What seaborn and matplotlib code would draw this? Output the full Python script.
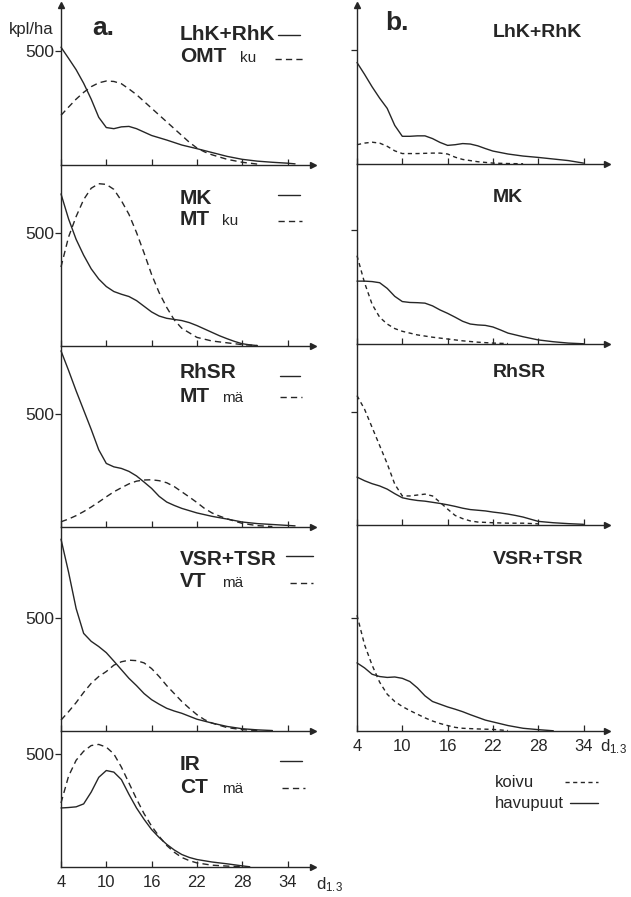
import matplotlib
matplotlib.use("Agg")
import matplotlib.pyplot as plt
import seaborn as sns
import pandas as pd
from matplotlib.lines import Line2D

sns.set_style("white")
plt.rcParams['font.family'] = ['Liberation Sans', 'DejaVu Sans']
plt.rcParams['mathtext.default'] = 'regular'

W, H = 631, 897
INK = '#262626'
PX_PER_UNIT = 0.227          # vertical px per kpl/ha
DASH_A = (0, (4.5, 3))
DASH_B = (0, (3, 2.5))

# ---------------- data (kpl/ha by d1.3 class) ----------------
# a. left column
lhk_d = [4, 5, 6, 7, 8, 9, 10, 11, 12, 13, 14, 16, 18, 20, 22, 24, 26, 28, 30, 32, 34, 35]
lhk_n = [519, 470, 420, 360, 290, 210, 165, 160, 168, 170, 160, 130, 110, 88, 72, 55, 38, 25, 17, 12, 8, 5]
omt_d = [4, 5, 6, 7, 8, 9, 10, 11, 12, 13, 14, 15, 16, 17, 18, 19, 20, 21, 22, 23, 24, 26, 28, 30]
omt_n = [219, 255, 290, 320, 345, 362, 370, 368, 358, 335, 310, 280, 250, 220, 190, 160, 130, 100, 75, 58, 45, 25, 12, 4]

mk_d = [4, 5, 6, 7, 8, 9, 10, 11, 12, 13, 14, 15, 16, 17, 18, 19, 20, 21, 22, 23, 24, 25, 26, 27, 28, 29, 30]
mk_n = [670, 560, 470, 400, 340, 295, 262, 240, 228, 218, 200, 175, 150, 132, 122, 117, 112, 103, 90, 75, 60, 45, 32, 20, 10, 5, 2]
mtku_d = [4, 5, 6, 7, 8, 9, 10, 11, 12, 13, 14, 15, 16, 17, 18, 19, 20, 22, 24, 26, 28, 30]
mtku_n = [348, 480, 570, 645, 695, 715, 712, 690, 640, 580, 500, 410, 315, 235, 170, 115, 78, 38, 22, 14, 6, 2]

rhsr_d = [4, 5, 6, 7, 8, 9, 10, 11, 12, 13, 14, 15, 16, 17, 18, 19, 20, 22, 24, 26, 28, 30, 32, 34, 35]
rhsr_n = [776, 690, 600, 515, 430, 340, 280, 265, 258, 245, 225, 198, 170, 135, 110, 95, 82, 62, 47, 35, 22, 15, 11, 7, 5]
mtma_d = [4, 5, 6, 7, 8, 9, 10, 11, 12, 13, 14, 15, 16, 17, 18, 19, 20, 21, 22, 23, 24, 25, 26, 28, 30, 32]
mtma_n = [23, 35, 50, 68, 88, 110, 133, 155, 173, 190, 202, 207, 208, 204, 195, 178, 155, 132, 108, 82, 62, 48, 36, 16, 6, 2]

vsr_d = [4, 5, 6, 7, 8, 9, 10, 11, 12, 13, 14, 15, 16, 17, 18, 19, 20, 22, 24, 26, 28, 30, 32]
vsr_n = [845, 700, 540, 430, 395, 372, 345, 308, 270, 232, 200, 165, 138, 118, 100, 88, 78, 52, 35, 20, 10, 5, 2]
vt_d = [4, 5, 6, 7, 8, 9, 10, 11, 12, 13, 14, 15, 16, 17, 18, 19, 20, 21, 22, 23, 24, 26, 28, 30]
vt_n = [48, 85, 125, 170, 210, 240, 262, 290, 305, 312, 310, 300, 275, 240, 200, 165, 130, 100, 72, 50, 35, 15, 6, 2]

ir_d = [4, 5, 6, 7, 8, 9, 10, 11, 12, 13, 14, 15, 16, 17, 18, 19, 20, 21, 22, 24, 26, 28, 29]
ir_n = [260, 262, 265, 278, 330, 395, 425, 418, 385, 320, 260, 210, 165, 130, 100, 75, 55, 42, 33, 22, 14, 5, 1]
ct_d = [4, 5, 6, 7, 8, 9, 10, 11, 12, 13, 14, 15, 16, 17, 18, 19, 20, 21, 22, 24, 26, 28]
ct_n = [282, 400, 470, 510, 535, 540, 528, 498, 440, 370, 300, 235, 180, 135, 95, 65, 42, 28, 18, 8, 4, 1]

# b. right column: havupuut (solid) / koivu (dashed)
b1_hav_d = [4, 5, 6, 7, 8, 9, 10, 11, 12, 13, 14, 15, 16, 17, 18, 19, 20, 21, 22, 24, 26, 28, 30, 32, 34]
b1_hav_n = [447, 395, 340, 290, 245, 170, 122, 122, 124, 124, 112, 95, 82, 85, 90, 88, 80, 68, 57, 44, 35, 29, 22, 15, 4]
b1_koi_d = [4, 5, 6, 7, 8, 9, 10, 12, 14, 15, 16, 17, 18, 20, 22, 24, 26]
b1_koi_n = [85, 92, 96, 92, 78, 58, 46, 46, 48, 48, 44, 30, 20, 10, 4, 2, 1]

b2_hav_d = [4, 5, 6, 7, 8, 9, 10, 11, 12, 13, 14, 15, 16, 17, 18, 19, 20, 21, 22, 23, 24, 26, 28, 30, 32, 34]
b2_hav_n = [277, 277, 275, 270, 245, 210, 187, 183, 182, 180, 168, 150, 135, 118, 100, 88, 84, 82, 75, 62, 48, 32, 18, 10, 4, 1]
b2_koi_d = [4, 5, 6, 7, 8, 9, 10, 11, 12, 14, 16, 18, 20, 22, 24]
b2_koi_n = [389, 270, 175, 118, 88, 68, 56, 48, 40, 30, 22, 14, 8, 4, 2]

b3_hav_d = [4, 5, 6, 7, 8, 9, 10, 11, 12, 13, 14, 15, 16, 17, 18, 19, 20, 21, 22, 23, 24, 25, 26, 28, 30, 32, 34]
b3_hav_n = [211, 195, 182, 172, 158, 138, 120, 113, 108, 105, 100, 95, 89, 82, 74, 68, 65, 62, 57, 53, 48, 42, 35, 16, 10, 6, 3]
b3_koi_d = [4, 5, 6, 7, 8, 9, 10, 11, 12, 13, 14, 15, 16, 17, 18, 19, 20, 22, 24, 26, 28]
b3_koi_n = [570, 510, 430, 350, 270, 180, 128, 128, 132, 136, 128, 100, 70, 42, 28, 18, 13, 10, 8, 8, 5]

b4_hav_d = [4, 5, 6, 7, 8, 9, 10, 11, 12, 13, 14, 15, 16, 17, 18, 19, 20, 21, 22, 24, 26, 28, 30]
b4_hav_n = [300, 278, 250, 240, 236, 238, 232, 218, 190, 155, 130, 118, 106, 96, 85, 72, 60, 48, 40, 24, 12, 6, 1]
b4_koi_d = [4, 5, 6, 7, 8, 9, 10, 11, 12, 13, 14, 15, 16, 17, 18, 20, 22, 24]
b4_koi_n = [510, 380, 290, 215, 162, 130, 108, 90, 74, 58, 44, 33, 24, 16, 12, 9, 7, 2]

x_ticks = [4, 10, 16, 22, 28, 34]

# ---------------- layout (pixel boxes) ----------------
LEFT_X, LEFT_W = 61, 252
RIGHT_X, RIGHT_W = 357, 250
left_rows = [(5, 165), (165, 346), (346, 527), (527, 731), (731, 867)]
right_rows = [(5, 164), (164, 344), (344, 525), (525, 731)]

fig = plt.figure(figsize=(W / 100, H / 100), dpi=100)


def fx(x):
    return x / W


def fy(y):
    return 1 - y / H


def make_axes(x0, width, top, base, first, last, label_500):
    ax = fig.add_axes([fx(x0), fy(base), width / W, (base - top) / H])
    ax.set_xlim(4, 4 + width / 7.55)
    ax.set_ylim(0, (base - top) / PX_PER_UNIT)
    for s in ('top', 'right'):
        ax.spines[s].set_visible(False)
    for s in ('left', 'bottom'):
        ax.spines[s].set_color(INK)
        ax.spines[s].set_linewidth(1.0)
    ax.set_xticks(x_ticks)
    ax.set_yticks([500])
    ax.tick_params(axis='x', bottom=True, direction='in', length=4, width=0.9, color=INK,
                   labelsize=12, pad=6, labelcolor=INK, labelbottom=last)
    ax.tick_params(axis='y', left=True, direction='out', length=4, width=0.9, color=INK,
                   labelsize=12.5, pad=1, labelcolor=INK, labelleft=label_500)
    ax.patch.set_alpha(0)
    ax.plot(1, 0, '>', color=INK, ms=5, transform=ax.get_yaxis_transform(), clip_on=False)
    if first:
        ax.plot(0, 1, '^', color=INK, ms=5, transform=ax.transAxes, clip_on=False)
    return ax


def draw(ax, d, n, dashed, pattern=DASH_A):
    df = pd.DataFrame({'d': d, 'n': n})
    ls = pattern if dashed else '-'
    sns.lineplot(data=df, x='d', y='n', ax=ax, color=INK, lw=1.0, linestyle=ls,
                 errorbar=None, clip_on=False)
    ax.set_xlabel('')
    ax.set_ylabel('')


left_series = [
    (lhk_d, lhk_n, omt_d, omt_n),
    (mk_d, mk_n, mtku_d, mtku_n),
    (rhsr_d, rhsr_n, mtma_d, mtma_n),
    (vsr_d, vsr_n, vt_d, vt_n),
    (ir_d, ir_n, ct_d, ct_n),
]
right_series = [
    (b1_hav_d, b1_hav_n, b1_koi_d, b1_koi_n),
    (b2_hav_d, b2_hav_n, b2_koi_d, b2_koi_n),
    (b3_hav_d, b3_hav_n, b3_koi_d, b3_koi_n),
    (b4_hav_d, b4_hav_n, b4_koi_d, b4_koi_n),
]

for i, ((top, base), (sd, sn, dd, dn)) in enumerate(zip(left_rows, left_series)):
    ax = make_axes(LEFT_X, LEFT_W, top, base, i == 0, i == len(left_rows) - 1, True)
    draw(ax, sd, sn, False)
    draw(ax, dd, dn, True)

for i, ((top, base), (sd, sn, dd, dn)) in enumerate(zip(right_rows, right_series)):
    ax = make_axes(RIGHT_X, RIGHT_W, top, base, i == 0, i == len(right_rows) - 1, False)
    draw(ax, sd, sn, False)
    draw(ax, dd, dn, True, DASH_B)


# ---------------- text ----------------
def txt(x, y, s, size, bold=False, **kw):
    fig.text(fx(x), fy(y), s, fontsize=size, color=INK,
             fontweight='bold' if bold else 'normal', va='baseline', ha='left', **kw)


def sample(x1, x2, y, dashed, pattern=DASH_A):
    fig.add_artist(Line2D([fx(x1), fx(x2)], [fy(y), fy(y)], color=INK, lw=1.0,
                          linestyle=pattern if dashed else '-'))


txt(92, 35, 'a.', 19, True)
txt(9, 34, 'kpl/ha', 12)
txt(385, 30, 'b.', 19, True)

# left legends: (name1, y1, name2, sub, y2, solid line (x1,x2,y), dashed line (x1,x2,y))
left_labels = [
    ('LhK+RhK', 40, 'OMT', 'ku', 62, (278, 300, 35), (275, 305, 59)),
    ('MK', 204, 'MT', 'ku', 225, (278, 300, 195), (278, 302, 221)),
    ('RhSR', 378, 'MT', 'mä', 402, (280, 300, 376), (280, 302, 397)),
    ('VSR+TSR', 565, 'VT', 'mä', 587, (286, 313, 556), (290, 313, 583)),
    ('IR', 770, 'CT', 'mä', 793, (280, 302, 761), (282, 305, 788)),
]
for name1, y1, name2, sub, y2, sl, dl in left_labels:
    txt(180, y1, name1, 15, True)
    txt(180, y2, name2, 15, True)
    txt(222 if name2 != 'OMT' else 240, y2, sub, 11)
    sample(sl[0], sl[1], sl[2], False)
    sample(dl[0], dl[1], dl[2], True)

for name, y in [('LhK+RhK', 37), ('MK', 202), ('RhSR', 377), ('VSR+TSR', 564)]:
    txt(493, y, name, 14, True)

# axis variable labels
txt(316, 889, r'd$_{1.3}$', 12)
txt(600, 751, r'd$_{1.3}$', 12)

# b. legend
txt(495, 787, 'koivu', 12)
txt(495, 808, 'havupuut', 12)
sample(565, 598, 782, True, DASH_B)
sample(570, 598, 803, False)

fig.savefig('out.png', dpi=100, facecolor='white')
